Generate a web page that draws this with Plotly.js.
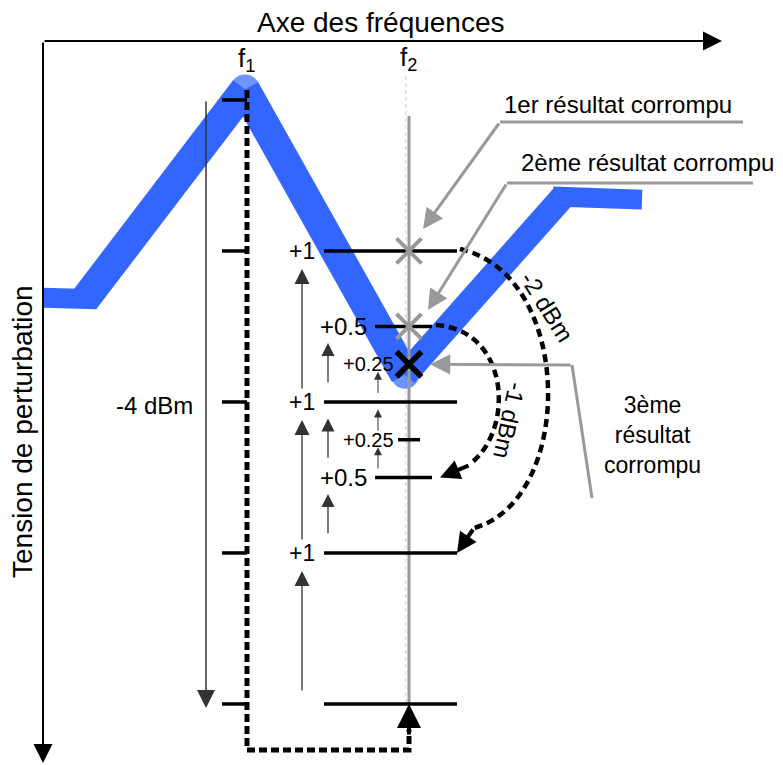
<!DOCTYPE html>
<html><head><meta charset="utf-8">
<script src="https://cdn.plot.ly/plotly-3.0.1.min.js"></script>
<style>html,body{margin:0;padding:0;background:#fff}#chart{width:783px;height:765px}</style>
</head><body><div id="chart"></div>
<script>
// ---------------- data ----------------
const axisLabels = ['Axe des fréquences', 'Tension de perturbation'];
const freqLabels = ['f<sub>1</sub>', 'f<sub>2</sub>'];
const freqX = [247, 409];
const f1Levels = [0, 1, 2, 3, 4];            // dB marks along f1 (total span -4 dBm)
const pass1Levels = [0, 1, 2, 3];            // +1 dB steps
const pass2Levels = [1, 1.5, 2, 2.5];        // +0.5 dB steps
const pass3Levels = [1.5, 1.75, 2, 2.25];    // +0.25 dB steps
const stepLabels = ['+1', '+0.5', '+0.25'];
const corruptLevels = [3, 2.5, 2.25];
const corruptLabels = ['1er résultat corrompu', '2ème résultat corrompu', '3ème<br>résultat<br>corrompu'];
const backoffLabels = ['-2 dBm', '-1 dBm'];
const spanLabel = '-4 dBm';
const curveX = [43, 85, 245, 405, 563, 642];
const curveDb = [2.69, 2.68, 4.07, 2.18, 3.36, 3.34];

// ---------------- layout helpers ----------------
const DB_TOP = 4.662, PX_PER_DB = 151;
const Y = px => DB_TOP - px / PX_PER_DB;     // page row -> axis units
const FONT = 'Liberation Sans, Arial, sans-serif';
const BLUE = '#3366ff', GREY = '#999999', DARK = '#333333';
const passes = [pass1Levels, pass2Levels, pass3Levels];

const traces = [];
const shapes = [];
const ann = [];
function line(xs, ys, color, width, dash) {
  traces.push({type: 'scatter', mode: 'lines', x: xs, y: ys, hoverinfo: 'skip',
    line: {color: color, width: width, dash: dash || 'solid'}});
}
function arrow(x0, y0, x1, y1, color, width, size) {
  ann.push({x: x1, y: y1, ax: x0, ay: y0, xref: 'x', yref: 'y', axref: 'x', ayref: 'y',
    text: '', showarrow: true, arrowhead: 2, arrowcolor: color, arrowwidth: width,
    arrowsize: size, standoff: 0});
}
function label(text, x, y, size, extra) {
  ann.push(Object.assign({x: x, y: y, xref: 'x', yref: 'y', text: text, showarrow: false,
    xanchor: 'center', yanchor: 'middle', font: {family: FONT, size: size, color: '#000'}}, extra || {}));
}

// f2 thin guide
line([freqX[1] - 3, freqX[1] - 3], [Y(76), Y(705)], '#cccccc', 1, '4px,3px');

// blue response curve
const segWidths = [20, 30, 30, 25, 20];
for (let i = 0; i < curveX.length - 1; i++) {
  let xs = [curveX[i], curveX[i + 1]], ys = [curveDb[i], curveDb[i + 1]];
  if (i === 0) xs = [curveX[0], curveX[1] + 12];
  if (i === curveX.length - 2) xs = [curveX[i] - 10, curveX[i + 1]];
  line(xs, ys, BLUE, segWidths[i]);
}
traces.push({type: 'scatter', mode: 'markers', x: [curveX[2], curveX[3]], y: [curveDb[2], curveDb[3]],
  hoverinfo: 'skip', marker: {color: BLUE, size: [30, 28], line: {width: 0}}});

// f2 solid grey
line([freqX[1], freqX[1]], [Y(116), 0], GREY, 3);

// f1 ticks
const tx = [], ty = [];
f1Levels.forEach(L => { tx.push(freqX[0] - 25, freqX[0], null); ty.push(L, L, null); });
// level lines at f2
const extents = [[324, 457], [375, 432], [398, 420]];
const drawn = new Set();
passes.forEach((lv, p) => lv.forEach(L => {
  if (drawn.has(L) || L === corruptLevels[2]) return;
  drawn.add(L);
  tx.push(extents[p][0], extents[p][1], null); ty.push(L, L, null);
}));
line(tx, ty, '#000', 3.5);

// step labels and small arrows
const labelX = [302, 343, 368], labelSize = [23, 24, 20];
const arrowX = [302, 328, 378], tailOff = [0.08, 0.12, 0.05], tipOff = [0.12, 0.11, 0.05];
const arrowW = [1.3, 1.3, 1.0], arrowS = [2.3, 2.0, 1.6];
const labelled = new Set();
passes.forEach((lv, p) => {
  lv.forEach((L, i) => {
    if (i === 0) return;
    if (!labelled.has(L)) { labelled.add(L); label(stepLabels[p], labelX[p], L, labelSize[p]); }
    const prev = lv[i - 1];
    arrow(arrowX[p], prev + tailOff[p], arrowX[p], L - tipOff[p], DARK, arrowW[p], arrowS[p]);
  });
});

// f1 dashed path back to f2
line([freqX[0], freqX[0], freqX[1], freqX[1]], [Y(90), Y(750), Y(750), Y(730)], '#000', 5, '8px,4px');
arrow(freqX[1], Y(736), freqX[1], 0, '#000', 4, 1.2);

// grey callout lines
line([743, 500, null, 753, 507, null, 592, 572], [Y(122), Y(122), null, Y(183), Y(183), null, Y(498), Y(365)], GREY, 3);
arrow(500, Y(122), 423, Y(229), GREY, 3, 1.35);
arrow(507, Y(183), 428, Y(310), GREY, 3, 1.35);
arrow(572, Y(365), 430, corruptLevels[2], GREY, 3, 1.35);

// corrupt markers
traces.push({type: 'scatter', mode: 'markers', x: [freqX[1], freqX[1]], y: corruptLevels.slice(0, 2),
  hoverinfo: 'skip', marker: {symbol: 'x-thin', size: 25, line: {color: GREY, width: 4}}});
traces.push({type: 'scatter', mode: 'markers', x: [freqX[1]], y: corruptLevels.slice(2),
  hoverinfo: 'skip', marker: {symbol: 'x-thin', size: 25, line: {color: '#000', width: 5.5}}});

// back-off arcs
const P = (x, px) => x + ',' + Y(px);
shapes.push({type: 'path', xref: 'x', yref: 'y', layer: 'above',
  path: 'M' + P(460, 249) + ' C' + P(575, 275) + ' ' + P(575, 500) + ' ' + P(474, 528),
  line: {color: '#000', width: 4.5, dash: '8px,5px'}});
arrow(474, Y(528), 457, 1, '#000', 4, 1.0);
shapes.push({type: 'path', xref: 'x', yref: 'y', layer: 'above',
  path: 'M' + P(436, 325) + ' C' + P(510, 330) + ' ' + P(515, 430) + ' ' + P(470, 464),
  line: {color: '#000', width: 4.5, dash: '8px,5px'}});
arrow(470, Y(465), 440, 1.5, '#000', 4, 1.0);

// -4 dBm span arrow
arrow(206, 4, 206, Y(708), DARK, 1.5, 2.4);

// axes
arrow(43, Y(41), 722, Y(41), '#000', 2, 1.9);
arrow(43, Y(41), 43, Y(763), '#000', 2, 1.9);

// texts
label(axisLabels[0], 381, Y(22), 28);
label(axisLabels[1], 22, Y(432), 28, {textangle: -90});
label(freqLabels[0], 246, Y(59), 26);
label(freqLabels[1], 408, Y(58), 26);
label(corruptLabels[0], 618, Y(104), 24);
label(corruptLabels[1], 519, Y(162), 24, {xanchor: 'left'});
label(corruptLabels[2], 652, Y(435), 23);
label(spanLabel, 195, Y(405), 24, {xanchor: 'right'});
label(backoffLabels[0], 547, Y(306), 24, {textangle: 58});
label(backoffLabels[1], 510, Y(420), 24, {textangle: 102});

const layout = {
  width: 783, height: 765, margin: {l: 0, r: 0, t: 0, b: 0},
  paper_bgcolor: '#ffffff', plot_bgcolor: '#ffffff', showlegend: false,
  xaxis: {range: [0, 783], visible: false, fixedrange: true},
  yaxis: {range: [Y(765), DB_TOP], visible: false, fixedrange: true},
  shapes: shapes, annotations: ann
};
Plotly.newPlot('chart', traces, layout, {staticPlot: true, displayModeBar: false});
</script></body></html>
